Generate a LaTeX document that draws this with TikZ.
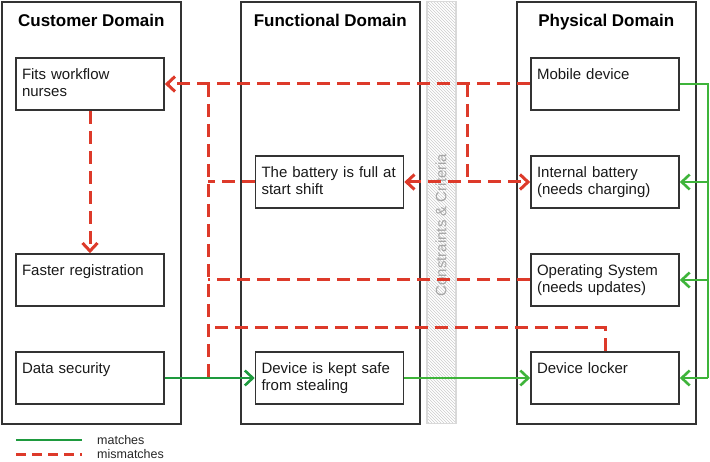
\documentclass[tikz,border=0pt]{standalone}
\usepackage{fontspec}
\setmainfont{Liberation Sans}
\usetikzlibrary{arrows.meta,patterns}

\definecolor{misred}{RGB}{221,58,42}
\definecolor{matchgreen}{RGB}{30,154,62}
\definecolor{linkgreen}{RGB}{62,180,58}
\definecolor{framegray}{RGB}{51,51,51}

\begin{document}
\begin{tikzpicture}[x=1pt,y=-1pt,>={Straight Barb[length=8pt,width=15pt]}]
  \tikzstyle{domainbox}=[rectangle,draw=framegray,line width=1.6pt,minimum width=179pt,
                      minimum height=422pt,anchor=north west]
  \tikzstyle{domaintitle}=[anchor=base,yshift=-26pt,text=black,font=\bfseries\fontsize{17}{20}\selectfont]
  \tikzstyle{item}=[rectangle,draw=framegray,line width=1.6pt,inner sep=6pt,text width=136pt,
                    text height=16pt,text depth=24pt,align=left,text=black!90,
                    font=\fontsize{15}{17}\selectfont]
  \tikzstyle{mis}=[draw=misred,line width=3pt,dash pattern=on 13pt off 7pt]
  \tikzstyle{hit}=[draw=matchgreen,line width=2.6pt]
  \tikzstyle{hitb}=[draw=linkgreen,line width=2.6pt]
  \tikzstyle{legendtext}=[anchor=west,inner sep=0pt,text=black!85,font=\fontsize{12.5}{14}\selectfont]

  \useasboundingbox (0,0) rectangle (710,462);

  % domains
  \node[domainbox,label={[domaintitle]north:Customer Domain}] (cust) at (1,1) {};
  \node[domainbox,label={[domaintitle]north:Functional Domain}] (func) at (240,1) {};
  \node[domainbox,label={[domaintitle]north:Physical Domain}] (phys) at (516,1) {};
  \node[rectangle,anchor=north west,minimum width=29pt,minimum height=422pt,draw=gray!30,
        line width=1.5pt,pattern=north west lines,pattern color=gray!40] (crit) at (426,1) {};
  \node[rotate=90,text=gray!70,font=\fontsize{15}{18}\selectfont] (critlabel) at (441,225)
       {Constraints \& Criteria};

  % customer needs
  \node[item] (fits) at (90,84) {Fits workflow\\nurses};
  \node[item] (faster) at (90,280) {Faster registration};
  \node[item] (datasec) at (90,378) {Data security};

  % functions
  \node[item] (battery) at (329.5,182) {The battery is full at\\start shift};
  \node[item] (safe) at (329.5,378) {Device is kept safe\\from stealing};

  % physical parts
  \node[item] (mobile) at (605,84) {Mobile device};
  \node[item] (internal) at (605,182) {Internal battery\\(needs charging)};
  \node[item] (os) at (605,280) {Operating System\\(needs updates)};
  \node[item] (locker) at (605,378) {Device locker};

  \coordinate (split) at (208,84);
  \coordinate (splitc) at (208,328);
  \coordinate (splitb) at (208,378);
  \coordinate (fork) at (467,84);
  \coordinate (bus) at (708,84);

  % mismatches
  \path[mis,->] (mobile) edge (fits);
  \path[mis,->] (fits) edge (faster);
  \draw[mis] (split) -- (splitb);
  \draw[mis] (battery) -- (battery -| split);
  \draw[mis] (os) -- (os -| split);
  \draw[mis] (locker.north) |- (splitc);
  \draw[mis] (fork) -- (fork |- internal);
  \path[mis,<->] (battery) edge (internal);

  % matches
  \path[hit,->] (datasec) edge (safe);
  \path[hitb,->] (safe) edge (locker);
  \draw[hitb] (mobile) -- (bus) -- (bus |- locker);
  \draw[hitb,->] (bus |- internal) -- (internal);
  \draw[hitb,->] (bus |- os) -- (os);
  \draw[hitb,->] (bus |- locker) -- (locker);

  % legend
  \node[legendtext] (lmatch) at (97,440) {matches};
  \node[legendtext] (lmis) at (97,454) {mismatches};
  \draw[hit] ([xshift=-81pt]lmatch.west) -- ([xshift=-15pt]lmatch.west);
  \draw[mis,dash pattern=on 10pt off 6pt] ([xshift=-81pt]lmis.west) -- ([xshift=-15pt]lmis.west);
\end{tikzpicture}
\end{document}
